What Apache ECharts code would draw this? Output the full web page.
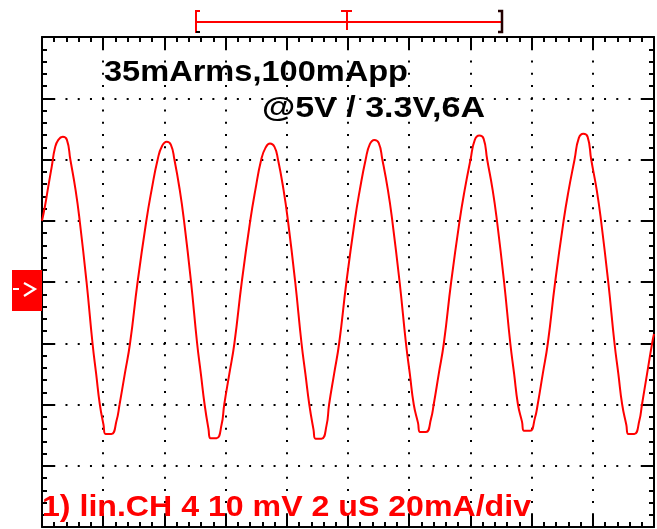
<!DOCTYPE html>
<html><head><meta charset="utf-8">
<script src="https://cdn.jsdelivr.net/npm/echarts@6/dist/echarts.min.js"></script>
<style>html,body{margin:0;padding:0;background:#fff}#c{width:657px;height:529px}</style>
</head><body><div id="c"></div>
<script>
// time in microseconds (2 us/div), current in mA (20 mA/div)
const timeUs = [0.000,0.098,0.206,0.317,0.425,0.533,0.680,
  0.814,0.926,1.098,1.232,1.456,1.651,1.770,1.890,2.010,2.075,2.271,2.435,
  2.535,2.706,2.877,3.124,3.410,3.581,3.780,3.923,4.075,
  4.213,4.327,4.503,4.641,4.871,5.069,5.192,5.314,5.441,5.507,5.703,5.866,
  5.956,6.122,6.288,6.528,6.805,6.971,7.165,7.303,7.451,
  7.594,7.712,7.895,8.038,8.275,8.481,8.608,8.735,8.873,8.938,9.134,9.297,
  9.382,9.546,9.711,9.948,10.221,10.385,10.577,10.714,10.860,
  11.003,11.122,11.305,11.448,11.687,11.894,12.021,12.149,12.288,12.353,12.549,12.712,
  12.801,12.966,13.132,13.371,13.647,13.812,14.005,14.144,14.291,
  14.431,14.548,14.728,14.868,15.101,15.304,15.429,15.554,15.686,15.752,15.948,16.111,
  16.199,16.365,16.530,16.770,17.046,17.211,17.404,17.542,17.690,
  17.831,17.948,18.129,18.270,18.505,18.709,18.835,18.960,19.095,19.160,19.356,19.520,
  19.608,19.773,19.939,20.000];
const currentMA = [20,24.8,31.2,37.6,43.8,46.4,47.4,
  46.4,40,30,20,0,-20,-30,-40,-46.6,-49.6,-49.6,-45.3,
  -40,-30,-20,0,20,30,40,44.4,45.8,
  44.8,40,30,20,0,-20,-30,-40,-48,-51,-51,-46.7,
  -40,-30,-20,0,20,30,40,43.8,45.2,
  44.2,40,30,20,0,-20,-30,-40,-48.2,-51.2,-51.2,-46.9,
  -40,-30,-20,0,20,30,40,45,46.4,
  45.4,40,30,20,0,-20,-30,-40,-46,-49,-49,-44.7,
  -40,-30,-20,0,20,30,40,46.4,47.8,
  46.8,40,30,20,0,-20,-30,-40,-45.6,-48.6,-48.6,-44.3,
  -40,-30,-20,0,20,30,40,47,48.4,
  47.4,40,30,20,0,-20,-30,-40,-46.6,-49.6,-49.6,-45.3,
  -40,-30,-20,-17];
const xRange = [0, 20], xStep = 2;
const yRange = [-80, 80], yStep = 20;
const noteLine1 = '35mArms,100mApp';
const noteLine2 = '@5V / 3.3V,6A';
const channelLabel = '1) lin.CH 4 10 mV 2 uS 20mA/div';

const FONT_FAMILY = '"Liberation Sans", Arial, sans-serif';
function fitScale(text, size, weight, target) {
  const ctx = document.createElement('canvas').getContext('2d');
  ctx.font = weight + ' ' + size + 'px ' + FONT_FAMILY;
  return target / ctx.measureText(text).width;
}

const chart = echarts.init(document.getElementById('c'), null, {renderer: 'canvas'});
const G = {left: 42, top: 37, width: 612, height: 490};
const minorStep = G.width / 10 / 5;
const dotStyle = {color: '#000', width: 2, type: [2, minorStep - 2], dashOffset: 1};

function frameAxis(extra) {
  return Object.assign({
    type: 'value',
    axisLine: {show: true, onZero: false, lineStyle: {color: '#000', width: 2}},
    axisTick: {show: true, inside: true, length: 12, lineStyle: {color: '#000', width: 2}},
    minorTick: {show: true, splitNumber: 5, length: 5, lineStyle: {color: '#000', width: 2}},
    axisLabel: {show: false},
    splitLine: {show: false},
    minorSplitLine: {show: false}
  }, extra);
}

function textEl(text, x, y, color, target) {
  const size = 30, weight = 'bold';
  return {
    type: 'text', x: x, y: y, z: 100,
    scaleX: fitScale(text, size, weight, target), scaleY: 1,
    style: {text: text, x: 0, y: 0, fill: color, font: weight + ' ' + size + 'px ' + FONT_FAMILY,
      textAlign: 'left', textVerticalAlign: 'middle'}
  };
}

const red = '#ff0000';
const graphics = [
  // top cursor marker
  {type: 'line', shape: {x1: 196, y1: 22, x2: 501, y2: 22}, style: {stroke: red, lineWidth: 2}, z: 100},
  {type: 'polyline', shape: {points: [[200, 11], [196, 11], [196, 32], [200, 32]]}, style: {stroke: red, lineWidth: 2, fill: null}, z: 100},
  {type: 'line', shape: {x1: 196, y1: 32, x2: 200, y2: 32}, style: {stroke: '#000', lineWidth: 2}, z: 101},
  {type: 'line', shape: {x1: 341, y1: 11, x2: 352, y2: 11}, style: {stroke: red, lineWidth: 2}, z: 100},
  {type: 'line', shape: {x1: 347, y1: 11, x2: 347, y2: 30}, style: {stroke: red, lineWidth: 2}, z: 100},
  {type: 'polyline', shape: {points: [[498, 11], [502, 11], [502, 32], [498, 32]]}, style: {stroke: '#200', lineWidth: 2.5, fill: null}, z: 100},
  // channel ground marker
  {type: 'rect', shape: {x: 12, y: 270, width: 30, height: 41}, style: {fill: red}, z: 100},
  {type: 'line', shape: {x1: 13, y1: 289, x2: 19, y2: 289}, style: {stroke: '#fff', lineWidth: 2}, z: 101},
  {type: 'polyline', shape: {points: [[24, 283], [35, 289], [24, 296]]}, style: {stroke: '#fff', lineWidth: 2.2, fill: null}, z: 101},
  // texts
  textEl(noteLine1, 104, 72.5, '#000', 304),
  textEl(noteLine2, 262, 109, '#000', 223),
  textEl(channelLabel, 42, 507.5, red, 489)
];

chart.setOption({
  animation: false,
  backgroundColor: '#fff',
  grid: G,
  xAxis: [
    frameAxis({position: 'bottom', min: xRange[0], max: xRange[1], interval: xStep,
      splitLine: {show: true, lineStyle: dotStyle}}),
    frameAxis({position: 'top', min: xRange[0], max: xRange[1], interval: xStep})
  ],
  yAxis: [
    frameAxis({position: 'left', min: yRange[0], max: yRange[1], interval: yStep,
      splitLine: {show: true, lineStyle: dotStyle}}),
    frameAxis({position: 'right', min: yRange[0], max: yRange[1], interval: yStep})
  ],
  series: [{
    type: 'line', xAxisIndex: 0, yAxisIndex: 0,
    data: timeUs.map((t, i) => [t, currentMA[i]]),
    showSymbol: false, smooth: 0.5, clip: true,
    lineStyle: {color: red, width: 2}, z: 5
  }],
  graphic: graphics
});
</script></body></html>
